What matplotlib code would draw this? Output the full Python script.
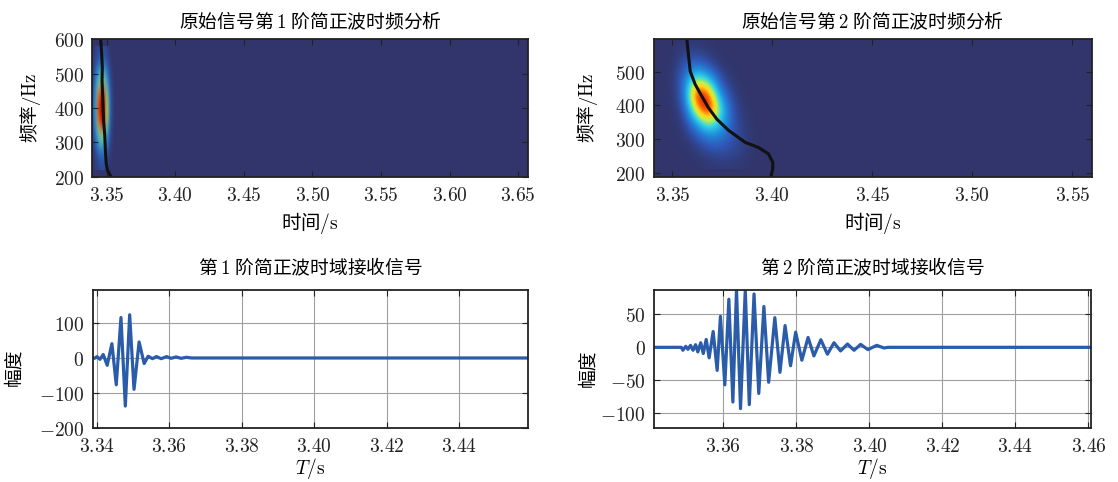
import numpy as np
import matplotlib
matplotlib.use("Agg")
import matplotlib.pyplot as plt
from matplotlib.colors import LinearSegmentedColormap
from matplotlib.ticker import FuncFormatter, MultipleLocator

plt.rcParams['font.family'] = ['Noto Sans CJK SC', 'DejaVu Sans']
plt.rcParams['mathtext.fontset'] = 'cm'
plt.rcParams['axes.unicode_minus'] = True

# ---- time-frequency energy (coarse grid, mode 1) ----
tf1_time = [3.340, 3.342, 3.344, 3.346, 3.348, 3.350, 3.352, 3.354]
tf1_freq = [560, 520, 480, 440, 400, 360, 320, 280, 240]
tf1_energy = [
    [0.01, 0.02, 0.05, 0.06, 0.06, 0.04, 0.01, 0.00],
    [0.02, 0.08, 0.16, 0.20, 0.20, 0.12, 0.04, 0.00],
    [0.04, 0.18, 0.40, 0.50, 0.48, 0.28, 0.08, 0.01],
    [0.06, 0.28, 0.72, 0.90, 0.86, 0.48, 0.13, 0.02],
    [0.07, 0.32, 0.82, 1.00, 0.96, 0.56, 0.15, 0.02],
    [0.06, 0.28, 0.72, 0.90, 0.88, 0.50, 0.13, 0.02],
    [0.04, 0.16, 0.40, 0.50, 0.48, 0.28, 0.08, 0.01],
    [0.02, 0.06, 0.15, 0.20, 0.19, 0.11, 0.03, 0.00],
    [0.00, 0.02, 0.04, 0.06, 0.06, 0.03, 0.01, 0.00],
]
ridge1_time = [3.3456, 3.3463, 3.3468, 3.3466, 3.3470, 3.3474, 3.3478, 3.3486, 3.3490, 3.3496, 3.3505, 3.3530]
ridge1_freq = [600, 560, 520, 480, 440, 400, 360, 320, 280, 240, 220, 200]

# ---- time-frequency energy (coarse grid, mode 2) ----
tf2_time = [3.350, 3.356, 3.362, 3.368, 3.374, 3.380, 3.386, 3.392]
tf2_freq = [590, 550, 510, 470, 430, 390, 350, 310, 270, 230]
tf2_energy = [
    [0.00, 0.00, 0.01, 0.00, 0.00, 0.00, 0.00, 0.00],
    [0.00, 0.04, 0.06, 0.02, 0.00, 0.00, 0.00, 0.00],
    [0.00, 0.10, 0.22, 0.12, 0.02, 0.00, 0.00, 0.00],
    [0.00, 0.14, 0.62, 0.45, 0.09, 0.01, 0.00, 0.00],
    [0.00, 0.12, 0.92, 0.88, 0.24, 0.04, 0.00, 0.00],
    [0.00, 0.06, 0.66, 1.00, 0.45, 0.07, 0.01, 0.00],
    [0.00, 0.02, 0.28, 0.60, 0.38, 0.10, 0.02, 0.00],
    [0.00, 0.01, 0.08, 0.22, 0.20, 0.09, 0.03, 0.00],
    [0.00, 0.00, 0.02, 0.07, 0.09, 0.07, 0.03, 0.00],
    [0.00, 0.00, 0.00, 0.01, 0.02, 0.02, 0.01, 0.00],
]
ridge2_time = [3.3572, 3.3589, 3.3614, 3.3647, 3.3680, 3.3722, 3.3780, 3.3864, 3.3930, 3.3980, 3.4002, 3.4002, 3.3992]
ridge2_freq = [597, 501, 462, 427, 393, 359, 326, 290, 275, 256, 231, 212, 187]

# ---- received waveforms (extrema) ----
sig1_t = [3.3395, 3.3401, 3.3409, 3.3418, 3.3429, 3.3442, 3.3454, 3.3467, 3.3479, 3.3491,
          3.3503, 3.3517, 3.3531, 3.3542, 3.3554, 3.3565, 3.3578, 3.3593, 3.3605, 3.3619,
          3.3633, 3.3647, 3.3662, 3.4590]
sig1_amp = [0, 4, -4, 10, -21, 41, -77, 116, -138, 124,
            -90, 46, -16, 5, -2, 4, -2, 4, -1, 3,
            -1, 2, 0, 0]

sig2_t = [3.3410, 3.3485, 3.3489, 3.3497, 3.3503, 3.3510, 3.3517, 3.3524, 3.3530, 3.3538,
          3.3545, 3.3553, 3.3561, 3.3572, 3.3583, 3.3592, 3.3604, 3.3615, 3.3626, 3.3636,
          3.3647, 3.3660, 3.3671, 3.3684, 3.3697, 3.3711, 3.3724, 3.3741, 3.3755, 3.3769,
          3.3784, 3.3798, 3.3815, 3.3832, 3.3848, 3.3867, 3.3885, 3.3903, 3.3921, 3.3940,
          3.3958, 3.3976, 3.3996, 3.4020, 3.4040, 3.4051, 3.4607]
sig2_amp = [0, 0, -4.5, 1.5, -3, 3, -4.5, 4, -7, 7,
            -9.5, 12, -16, 24, -35, 47, -57, 73, -83, 88,
            -93, 87, -87, 81, -70, 62, -53, 45, -38, 33,
            -28, 23, -19.6, 15, -13, 11.5, -10.5, 7, -5.5, 5,
            -4.5, 4.5, -3.5, 3, -1, 0, 0]

titles_top = ['原始信号第 $1$ 阶简正波时频分析', '原始信号第 $2$ 阶简正波时频分析']
titles_bottom = ['第 $1$ 阶简正波时域接收信号', '第 $2$ 阶简正波时域接收信号']

bg_color = '#31356b'
tf_cmap = LinearSegmentedColormap.from_list('tf', [
    (0.00, bg_color), (0.10, '#2f58b8'), (0.25, '#1f95e0'), (0.40, '#33d4e6'),
    (0.55, '#c8f040'), (0.65, '#ffd21a'), (0.76, '#ff6a00'), (0.88, '#e01010'),
    (1.00, '#8c0000')])
line_blue = '#2a5caa'

W, H = 1118, 482
fig = plt.figure(figsize=(W / 100, H / 100), dpi=100)

def box(x0, x1, y0, y1):
    return [x0 / W, 1 - y1 / H, (x1 - x0) / W, (y1 - y0) / H]

ax_tf1 = fig.add_axes(box(92.3, 528.3, 39.3, 176.7))
ax_tf2 = fig.add_axes(box(654.0, 1091.7, 39.3, 176.7))
ax_s1 = fig.add_axes(box(92.7, 528.0, 290.0, 427.7))
ax_s2 = fig.add_axes(box(654.0, 1091.0, 290.0, 427.7))

fmt_x = FuncFormatter(lambda v, p: f'${v:.2f}$')
fmt_y = FuncFormatter(lambda v, p: f'${v:g}$')

def style(ax):
    ax.tick_params(direction='in', top=True, right=True, labelsize=14,
                   length=4, width=0.8, pad=6, colors='#222222')
    for s in ax.spines.values():
        s.set_linewidth(1.3)
        s.set_color('#222222')
    ax.xaxis.set_major_formatter(fmt_x)
    ax.yaxis.set_major_formatter(fmt_y)

def time_freq(ax, tt, ff, energy, rt, rf, xlim, ylim, title):
    ax.set_facecolor(bg_color)
    dt = tt[1] - tt[0]
    df = ff[0] - ff[1]
    ax.imshow(np.array(energy), cmap=tf_cmap, vmin=0, vmax=1, origin='upper',
              interpolation='bicubic', aspect='auto',
              extent=[tt[0] - dt / 2, tt[-1] + dt / 2, ff[-1] - df / 2, ff[0] + df / 2])
    ax.plot(rt, rf, color='#111111', lw=2.2)
    ax.set_xlim(*xlim)
    ax.set_ylim(*ylim)
    style(ax)
    ax.set_title(title, fontsize=13.5, pad=8)
    ax.set_xlabel('时间$/\\mathrm{s}$', fontsize=14)
    ax.set_ylabel('频率$/\\mathrm{Hz}$', fontsize=13.5)
    ax.xaxis.set_label_coords(0.5, -0.24)

def waveform(ax, t, amp, xlim, ylim, yticks, title):
    ax.plot(t, amp, color=line_blue, lw=2.3)
    ax.set_xlim(*xlim)
    ax.set_ylim(*ylim)
    ax.set_yticks(yticks)
    ax.xaxis.set_major_locator(MultipleLocator(0.02))
    ax.grid(True, color='#a0a0a0', lw=0.8)
    ax.set_axisbelow(True)
    style(ax)
    ax.set_title(title, fontsize=13.5, pad=11)
    ax.set_xlabel('$T/\\mathrm{s}$', fontsize=14)
    ax.set_ylabel('幅度', fontsize=13.5)
    ax.xaxis.set_label_coords(0.5, -0.205)

time_freq(ax_tf1, tf1_time, tf1_freq, tf1_energy, ridge1_time, ridge1_freq,
          (3.3395, 3.6573), (200, 600), titles_top[0])
ax_tf1.set_yticks([200, 300, 400, 500, 600])
ax_tf1.xaxis.set_major_locator(MultipleLocator(0.05))
ax_tf1.yaxis.set_label_coords(-0.113, 0.5)

time_freq(ax_tf2, tf2_time, tf2_freq, tf2_energy, ridge2_time, ridge2_freq,
          (3.3408, 3.5597), (188, 596), titles_top[1])
ax_tf2.set_yticks([200, 300, 400, 500])
ax_tf2.xaxis.set_major_locator(MultipleLocator(0.05))
ax_tf2.yaxis.set_label_coords(-0.123, 0.5)

waveform(ax_s1, sig1_t, sig1_amp, (3.3389, 3.4590), (-200, 195),
         [-200, -100, 0, 100], titles_bottom[0])
ax_s1.yaxis.set_label_coords(-0.158, 0.44)

waveform(ax_s2, sig2_t, sig2_amp, (3.3410, 3.4607), (-122, 87),
         [-100, -50, 0, 50], titles_bottom[1])
ax_s2.yaxis.set_label_coords(-0.128, 0.43)

fig.savefig('out.png', dpi=100)
